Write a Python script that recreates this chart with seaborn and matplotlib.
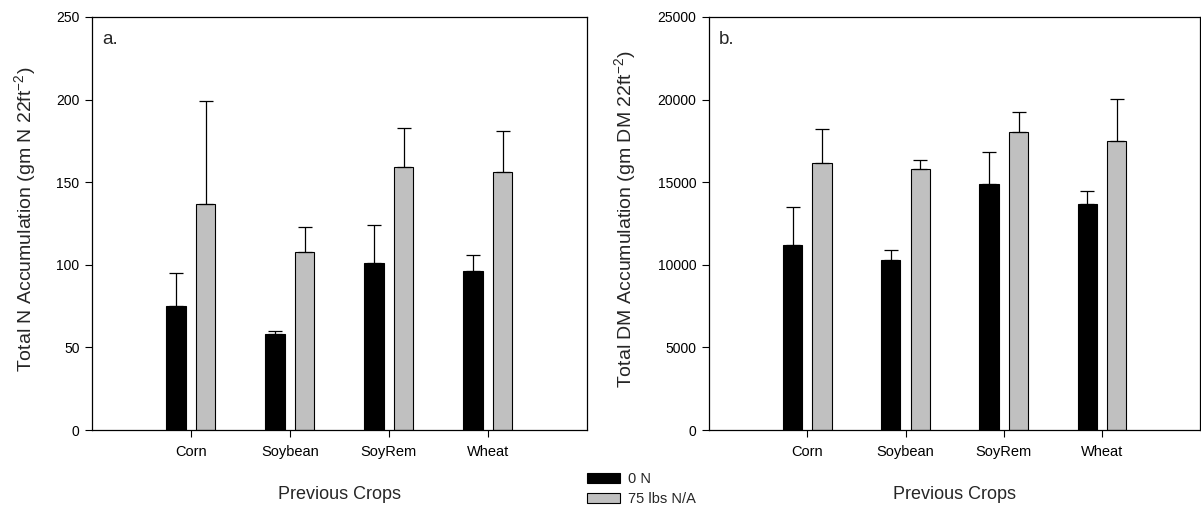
import numpy as np
import pandas as pd
import matplotlib
matplotlib.use("Agg")
import matplotlib.pyplot as plt
import seaborn as sns
from matplotlib.patches import Patch

# Data
crops = ["Corn", "Soybean", "SoyRem", "Wheat"]
treatments = ["0 N", "75 lbs N/A"]

n_0N = [75, 58, 101, 96]
n_0N_top = [95, 60, 124, 106]
n_75 = [137, 108, 159, 156]
n_75_top = [199, 123, 183, 181]

dm_0N = [11200, 10300, 14900, 13650]
dm_0N_top = [13500, 10900, 16800, 14450]
dm_75 = [16150, 15800, 18050, 17500]
dm_75_top = [18200, 16350, 19250, 20050]

colors = ["#000000", "#c0c0c0"]

sns.set_theme(style="white")
plt.rcParams["font.family"] = ["Liberation Sans", "DejaVu Sans"]
plt.rcParams["mathtext.fontset"] = "custom"
plt.rcParams["mathtext.rm"] = "Liberation Sans"
plt.rcParams["mathtext.it"] = "Liberation Sans"


def make_df(v0, v75):
    return pd.DataFrame({
        "crop": crops * 2,
        "trt": [treatments[0]] * 4 + [treatments[1]] * 4,
        "value": v0 + v75,
    })


def panel(ax, v0, t0, v75, t75, ymax, step, ylabel, tag, label_x):
    df = make_df(v0, v75)
    sns.barplot(data=df, x="crop", y="value", hue="trt", hue_order=treatments,
                palette=colors, width=0.6, gap=0.35, errorbar=None,
                edgecolor="black", linewidth=0.8, legend=False, ax=ax)
    # one-sided error bars placed on bar centres
    bars = sorted(ax.patches, key=lambda p: p.get_x())
    vals, tops = [], []
    for i in range(4):
        vals += [v0[i], v75[i]]
        tops += [t0[i], t75[i]]
    for p, v, t in zip(bars, vals, tops):
        xc = p.get_x() + p.get_width() / 2
        ax.errorbar(xc, v, yerr=[[0], [t - v]], fmt="none", ecolor="black",
                    elinewidth=0.9, capsize=5, capthick=0.9)
    ax.set_xlim(-1, 4)
    ax.set_ylim(0, ymax)
    ax.set_yticks(np.arange(0, ymax + 1, step))
    ax.set_xlabel("Previous Crops", fontsize=13, labelpad=19)
    ax.set_ylabel(ylabel, fontsize=14)
    ax.yaxis.set_label_coords(label_x, 0.51)
    ax.tick_params(axis="both", direction="out", length=5,
                   width=0.8, colors="black", bottom=True, left=True)
    ax.tick_params(axis="x", labelsize=10.5, pad=6)
    ax.tick_params(axis="y", labelsize=10, pad=4)
    for s in ax.spines.values():
        s.set_color("black")
        s.set_linewidth(0.9)
    ax.text(0.02, 0.945, tag, transform=ax.transAxes, fontsize=13.5,
            va="center", ha="left")


fig = plt.figure(figsize=(12.01, 5.12), dpi=100)
ax1 = fig.add_axes([0.0766, 0.160, 0.412, 0.807])
ax2 = fig.add_axes([0.5904, 0.160, 0.4090, 0.807])

panel(ax1, n_0N, n_0N_top, n_75, n_75_top, 250, 50,
      "Total N Accumulation (gm N 22ft$^{\\mathregular{-2}}$)", "a.", -0.11)
panel(ax2, dm_0N, dm_0N_top, dm_75, dm_75_top, 25000, 5000,
      "Total DM Accumulation (gm DM 22ft$^{\\mathregular{-2}}$)", "b.", -0.145)

handles = [Patch(facecolor=c, edgecolor="black", linewidth=0.8) for c in colors]
fig.legend(handles, treatments, loc="upper left",
           bbox_to_anchor=(581 / 1201, 1 - 466 / 512), frameon=False,
           fontsize=10.5, handlelength=2.3, handleheight=0.7,
           labelspacing=0.45, handletextpad=0.55, borderaxespad=0)

fig.savefig("out.png", dpi=100)
